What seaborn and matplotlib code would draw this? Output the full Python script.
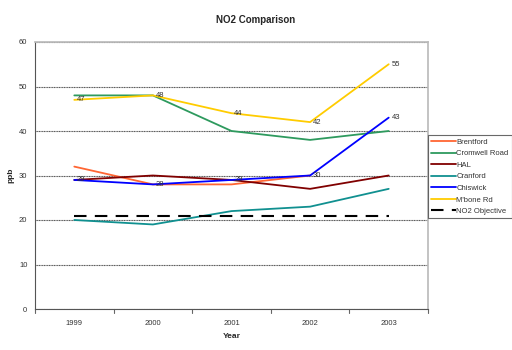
import numpy as np
import pandas as pd
import matplotlib
matplotlib.use("Agg")
import matplotlib.pyplot as plt
import seaborn as sns

years = ["1999", "2000", "2001", "2002", "2003"]
brentford = [32, 28, 28, 30, np.nan]
cromwell = [48, 48, 40, 38, 40]
hal = [29, 30, 29, 27, 30]
cranford = [20, 19, 22, 23, 27]
chiswick = [29, 28, 29, 30, 43]
mbone = [47, 48, 44, 42, 55]
objective = [21, 21, 21, 21, 21]

series = {
    "Brentford": brentford,
    "Cromwell Road": cromwell,
    "HAL": hal,
    "Cranford": cranford,
    "Chiswick": chiswick,
    "M'bone Rd": mbone,
    "NO2 Objective": objective,
}
colors = {
    "Brentford": "#FF6633",
    "Cromwell Road": "#2E9A5E",
    "HAL": "#800000",
    "Cranford": "#109090",
    "Chiswick": "#0000FF",
    "M'bone Rd": "#FFCC00",
    "NO2 Objective": "#000000",
}

rows = []
for name, vals in series.items():
    for i, v in enumerate(vals):
        rows.append({"Year": i, "ppb": v, "Site": name})
df = pd.DataFrame(rows)

sns.set_theme(style="white")
plt.rcParams['font.family'] = ['Liberation Sans', 'DejaVu Sans']

fig = plt.figure(figsize=(5.12, 3.5), dpi=100)
ax = fig.add_axes([35/512, 1 - 309/350, 393/512, 267/350])

for name in series:
    sub = df[df["Site"] == name]
    sns.lineplot(data=sub, x="Year", y="ppb", ax=ax, color=colors[name],
                 label=name, linewidth=1.3 if name != "NO2 Objective" else 1.5,
                 estimator=None, sort=False)
for line in ax.get_lines():
    if line.get_label() == "NO2 Objective":
        line.set_dashes([6, 4])

# data labels
for i, v in enumerate(chiswick):
    ax.annotate(str(v), (i, v), xytext=(2, 0), textcoords="offset points",
                fontsize=5.5, color="#333333", va="center", ha="left")
for i, v in enumerate(mbone):
    ax.annotate(str(v), (i, v), xytext=(2, 0), textcoords="offset points",
                fontsize=5.5, color="#333333", va="center", ha="left")

ax.set_xlim(-0.5, 4.5)
ax.set_ylim(0, 60)
ax.set_xticks(range(len(years)))
ax.set_xticklabels(years)
ax.set_yticks(range(0, 61, 10))
ax.tick_params(axis="both", labelsize=5.5, length=2, colors="#333333", direction="out")
ax.tick_params(axis="x", length=0, pad=8)
for xb in np.arange(-0.5, 4.6, 1):
    ax.plot([xb, xb], [0, -0.8], color="#666666", lw=0.8, clip_on=False)
ax.yaxis.grid(True, color="#555555", linewidth=0.8, linestyle=(0, (1, 0.5)))
ax.xaxis.grid(False)
ax.set_xlabel("Year", fontsize=6, fontweight="bold", labelpad=4)
ax.set_ylabel("ppb", fontsize=6, fontweight="bold", labelpad=3)
ax.set_title("NO2 Comparison", fontsize=7, fontweight="bold", pad=14,
             x=(256 - 35) / 393)

for s in ["left", "bottom"]:
    ax.spines[s].set_color("#555555")
    ax.spines[s].set_linewidth(0.8)
ax.spines["top"].set_color("#bbbbbb")
ax.spines["right"].set_color("#bbbbbb")
ax.spines["right"].set_linestyle((0, (2, 1)))

leg = ax.legend(loc="upper left", bbox_to_anchor=(1.0, 0.65), fontsize=5.5,
                frameon=True, fancybox=False, borderpad=0.4, labelspacing=0.55,
                handlelength=3.2, handletextpad=0.1, borderaxespad=0)
leg.get_frame().set_edgecolor("#444444")
leg.get_frame().set_linewidth(0.8)
for t in leg.get_texts():
    t.set_color("#333333")

fig.savefig("out.png", dpi=100)
